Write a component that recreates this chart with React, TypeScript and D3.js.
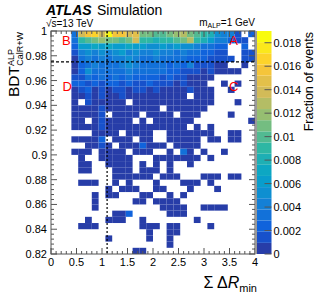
import React from "react";
import * as d3 from "d3";

const W = 319;
const H = 304;

// binning of the 2D histogram
const xRange = [0, 4];
const yRange = [0.82, 1];
const nX = 30;
const nY = 36;
const zMax = 0.019;
const nLevels = 20;

// colour level per bin, top row (0.995-1) first, 30 columns from 0 to 4
// '.' = empty bin, 0-9 then a-j = contour level 0..19
const rows = [
  "..." + "3eghe" + "jggef" + "bbaab" + "cdba9" + "85441" + ".2",
  "..." + "39abc" + "bbabe" + "99899" + "abd98" + "64421" + "1.",
  "..." + "26676" + "76676" + "65565" + "65543" + "322.." + "2.",
  "..." + "14545" + "45645" + "44544" + "34332" + "211.." + "11",
  "..." + "03434" + "34454" + "33433" + "33222" + "1111." + "11",
  "..." + "02343" + "33454" + "33332" + "32411" + "100.." + "0.",
  "..." + "02533" + "33343" + "33332" + "21110" + "10000" + "..",
  "..." + "11323" + "23232" + "22212" + "11000" + "0...." + "..",
  "..." + "22121" + "22121" + "12111" + "01000" + "..0.0" + "..",
  "..." + "01201" + "01101" + "10100" + "00100" + "0..0." + "..",
  "..." + "00101" + "00100" + "00000" + "00.00" + "0...." + "..",
  "..." + "0.100" + "000.0" + "00000" + "00000" + "0...0" + "..",
  "..." + "00001" + "00000" + "000.0" + "00000" + "....." + "..",
  "..." + "00001" + ".0000" + ".0000" + ".000." + "...0." + "..",
  "..." + "00.01" + "0000." + "0.000" + "000.." + "....." + ".0",
  "..." + "00001" + "00000" + "00000" + "00.0." + "0...." + "..",
  "..." + "...00" + "00.00" + "00..0" + "00000" + "0..00" + "..",
  "..." + "00002" + ".000." + "00..0" + "0000." + "00.00" + "..",
  "..." + "..001" + "0.000" + "2000." + "0000." + "....." + "..",
  "..." + "000.0" + "000.0" + "00..0" + ".30.0" + "..0.." + "..",
  "..." + ".0..0" + "0000." + "..000" + "0000." + "0...." + "..",
  "..." + ".00.." + "0000." + "0.0.0" + "..0.." + "....." + "..",
  "..." + ".00.." + ".000." + "000.0" + "....." + "....." + "..",
  "..." + "....." + ".0000" + "00.00" + "0...0" + "00.00" + "..",
  "..." + ".000." + ".0.0." + "..0.." + ".000." + "0...." + "..",
  "..." + "....." + "0.000" + "..00." + "..0.." + ".0..." + "..",
  "..." + "...0." + "00..." + "00..0" + ".0..." + "....." + "..",
  "..." + "...0." + "....0" + "0.000" + "0...." + "....." + "..",
  "..." + "...0." + "....." + "...00" + "00..0" + "000.." + "..",
  "..." + "....." + ".002." + "....0" + "00..." + "....." + "..",
  "..." + "..0.." + "000.." + "0...." + "...0." + "....." + "..",
  "..." + ".000." + "....." + "000.0" + "0...." + "0...." + "..",
  "..." + "....." + "....." + ".0..0" + "0...." + "....." + "..",
  "..." + "....." + "0...." + ".0..0" + "....." + "....." + "..",
  "..." + "....." + "....." + "....0" + "....." + "....." + "..",
  "..." + "....." + "....0" + "0...." + "....." + "....." + "..",
];

const xTicks = [0, 0.5, 1, 1.5, 2, 2.5, 3, 3.5, 4];
const xTickLabels = ["0", "0.5", "1", "1.5", "2", "2.5", "3", "3.5", "4"];
const yTicks = [0.82, 0.84, 0.86, 0.88, 0.9, 0.92, 0.94, 0.96, 0.98, 1];
const yTickLabels = ["0.82", "0.84", "0.86", "0.88", "0.9", "0.92", "0.94", "0.96", "0.98", "1"];
const zTicks = [0, 0.002, 0.004, 0.006, 0.008, 0.01, 0.012, 0.014, 0.016, 0.018];
const zTickLabels = ["0", "0.002", "0.004", "0.006", "0.008", "0.01", "0.012", "0.014", "0.016", "0.018"];

// selection cuts and region names
const cutX = 1.1;
const cutY = 0.975;
const regionNames = ["A", "B", "C", "D"];
const regionX = [3.58, 0.3, 3.58, 0.32];
const regionY = [0.9925, 0.9925, 0.955, 0.955];

// ROOT kBird palette
const birdStops = [0, 0.125, 0.25, 0.375, 0.5, 0.625, 0.75, 0.875, 1];
const birdR = [0.2082, 0.0592, 0.078, 0.0232, 0.1802, 0.5301, 0.8186, 0.9956, 0.9764];
const birdG = [0.1664, 0.3599, 0.5041, 0.6419, 0.7178, 0.7492, 0.7328, 0.7862, 0.9832];
const birdB = [0.5293, 0.8684, 0.8385, 0.7914, 0.6425, 0.4662, 0.3499, 0.1968, 0.0539];

const font = "'Liberation Sans', Arial, Helvetica, sans-serif";

export default function App() {
  const left = 51, right = 255, top = 31, bottom = 254;
  const x = d3.scaleLinear().domain(xRange).range([left, right]);
  const y = d3.scaleLinear().domain(yRange).range([bottom, top]);
  const z = d3.scaleLinear().domain([0, zMax]).range([bottom, top]);

  const bird = d3
    .scaleLinear<string>()
    .domain(birdStops)
    .range(birdStops.map((_, k) => d3.rgb(birdR[k] * 255, birdG[k] * 255, birdB[k] * 255).toString()));
  const levelColors = d3.range(nLevels).map((i) => bird(Math.min(1, Math.floor(((i + 0.99) * 255) / nLevels) / 254)));
  const zColor = d3.scaleQuantize<string>().domain([0, zMax]).range(levelColors);

  const xEdges = d3.range(nX + 1).map((i) => xRange[0] + ((xRange[1] - xRange[0]) * i) / nX);
  const yEdges = d3.range(nY + 1).map((j) => yRange[1] - ((yRange[1] - yRange[0]) * j) / nY);

  const cells: { x0: number; x1: number; y0: number; y1: number; v: number }[] = [];
  rows.forEach((row, j) => {
    row.split("").forEach((c, i) => {
      if (c === ".") return;
      const level = parseInt(c, 36);
      cells.push({ x0: xEdges[i], x1: xEdges[i + 1], y0: yEdges[j + 1], y1: yEdges[j], v: ((level + 0.5) * zMax) / nLevels });
    });
  });

  const xMinor = d3.range(0, 41).map((i) => i * 0.1);
  const yMinor = d3.range(0, 46).map((i) => 0.82 + i * 0.004);
  const axisCol = "#555";

  const cbLeft = 256.5, cbRight = 271.5;

  return (
    <svg width={W} height={H} style={{ position: "absolute", left: 0, top: 0, background: "#fff" }} fontFamily={font}>
      {/* heatmap */}
      {cells.map((d, k) => (
        <rect key={k} x={x(d.x0)} y={y(d.y1)} width={x(d.x1) - x(d.x0)} height={y(d.y0) - y(d.y1)} fill={zColor(d.v)} />
      ))}

      {/* ticks on all sides, pointing in */}
      {xMinor.map((t, k) => {
        const len = k % 5 === 0 ? 6 : 3;
        return (
          <g key={"xt" + k} stroke={axisCol} strokeWidth={1}>
            <line x1={x(t)} x2={x(t)} y1={bottom} y2={bottom - len} />
            <line x1={x(t)} x2={x(t)} y1={top} y2={top + len} />
          </g>
        );
      })}
      {yMinor.map((t, k) => {
        const len = k % 5 === 0 ? 6 : 3;
        return (
          <g key={"yt" + k} stroke={axisCol} strokeWidth={1}>
            <line x1={left} x2={left + len} y1={y(t)} y2={y(t)} />
            <line x1={right} x2={right - len} y1={y(t)} y2={y(t)} />
          </g>
        );
      })}
      <rect x={left} y={top} width={right - left} height={bottom - top} fill="none" stroke={axisCol} strokeWidth={1} />

      {/* cut lines */}
      <line x1={x(cutX)} x2={x(cutX)} y1={top} y2={bottom} stroke="#000" strokeWidth={1.2} strokeDasharray="2,2" />
      <line x1={left} x2={right} y1={y(cutY)} y2={y(cutY)} stroke="#000" strokeWidth={1.2} strokeDasharray="3,2" />

      {/* region names */}
      {regionNames.map((n, k) => (
        <text key={n} x={x(regionX[k])} y={y(regionY[k])} fill="#ff0000" fontSize={13} textAnchor="middle" dominantBaseline="central">
          {n}
        </text>
      ))}

      {/* axis labels */}
      {xTicks.map((t, k) => (
        <text key={"xl" + k} x={x(t)} y={266} fontSize={11} textAnchor="middle">
          {xTickLabels[k]}
        </text>
      ))}
      {yTicks.map((t, k) => (
        <text key={"yl" + k} x={47} y={y(t)} fontSize={11} textAnchor="end" dominantBaseline="central">
          {yTickLabels[k]}
        </text>
      ))}

      {/* x title */}
      <text x={right + 2} y={288} fontSize={16} textAnchor="end">
        Σ Δ<tspan fontStyle="italic">R</tspan>
        <tspan fontSize={11} dy={4}>min</tspan>
      </text>

      {/* y title */}
      <g transform="translate(19,32) rotate(-90)">
        <text x={0} y={4} fontSize={9} textAnchor="end">CalR+W</text>
        <text x={-34} y={-5} fontSize={9} textAnchor="start">ALP</text>
        <text x={-34} y={0} fontSize={15.5} textAnchor="end">BDT</text>
      </g>

      {/* colour bar */}
      {levelColors.map((c, i) => (
        <rect key={"cb" + i} x={cbLeft} y={z(((i + 1) * zMax) / nLevels)} width={cbRight - cbLeft} height={z((i * zMax) / nLevels) - z(((i + 1) * zMax) / nLevels)} fill={c} />
      ))}
      <line x1={cbLeft - 0.5} x2={cbLeft - 0.5} y1={top} y2={bottom} stroke="#999" strokeWidth={2} />
      {zTicks.map((t, k) => (
        <g key={"zt" + k}>
          <line x1={cbRight} x2={cbRight - 7} y1={z(t)} y2={z(t)} stroke={axisCol} strokeWidth={1} />
          <text x={cbRight + 2} y={z(t)} fontSize={11} dominantBaseline="central">
            {zTickLabels[k]}
          </text>
        </g>
      ))}
      <text transform="translate(313,32) rotate(-90)" fontSize={12.5} textAnchor="end">
        Fraction of events
      </text>

      {/* labels */}
      <text x={46} y={15} fontSize={14} fontWeight="bold" fontStyle="italic">ATLAS</text>
      <text x={97} y={15} fontSize={14}>Simulation</text>
      <text x={46} y={27} fontSize={10}>
        √<tspan textDecoration="overline">s</tspan>=13 TeV
      </text>
      <text x={right} y={26} fontSize={10} textAnchor="end">
        m<tspan fontSize={7} dy={2}>ALP</tspan>
        <tspan dy={-2}>=1 GeV</tspan>
      </text>
    </svg>
  );
}
